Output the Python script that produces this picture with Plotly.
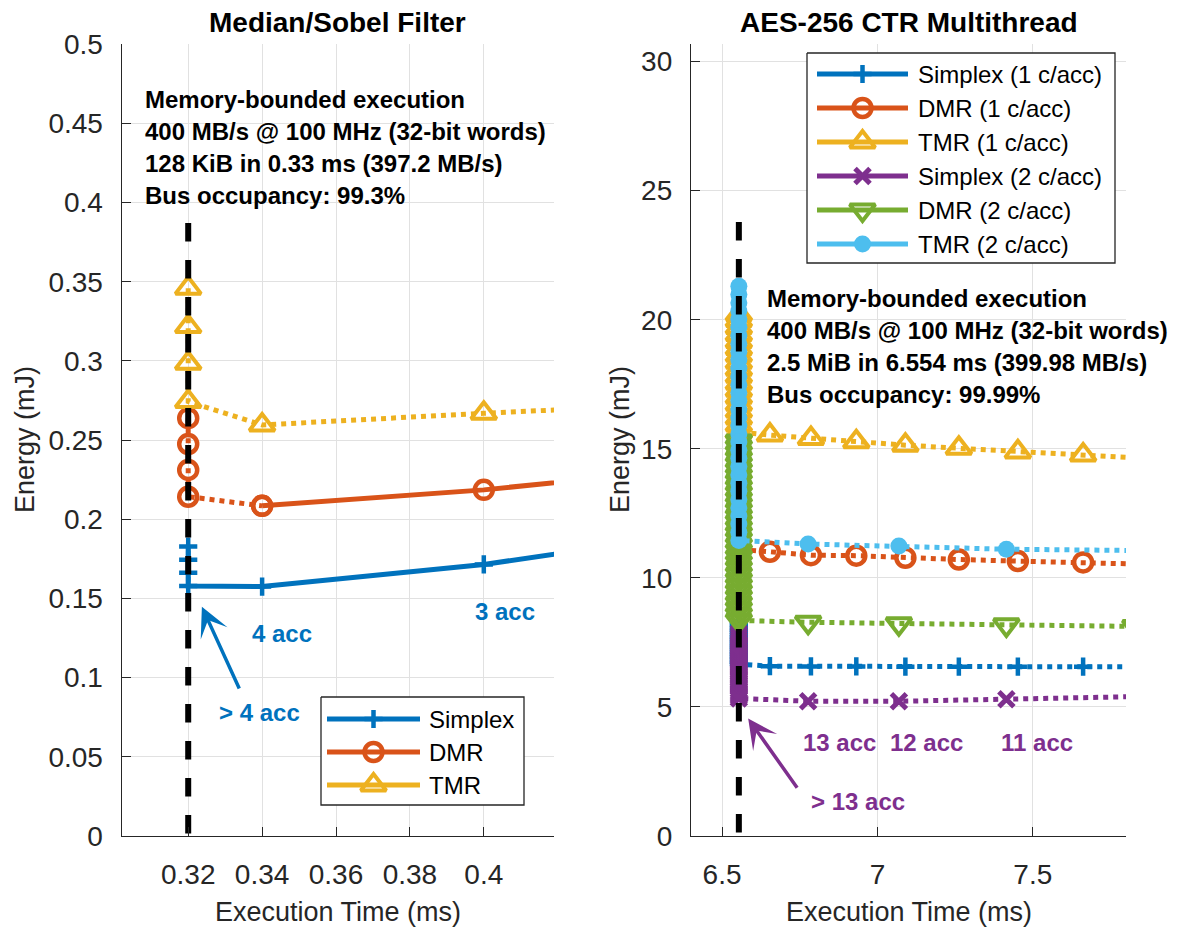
import plotly.graph_objects as go

W, H = 1184, 927
FONT = "Liberation Sans, Arial, Helvetica, sans-serif"

BLUE = "#0072BD"
ORANGE = "#D95319"
YELLOW = "#EDB120"
PURPLE = "#7E2F8E"
GREEN = "#77AC30"
CYAN = "#4DBEEE"
AXIS = "#262626"
GRID = "#e1e1e1"

# ---------------- Median/Sobel Filter ----------------
SOBEL_MEM_TIME = 0.32                      # memory-bounded execution time (ms)
SOBEL_DASH_TOP = 0.3872
SOBEL_TIME = [0.34, 0.40, 0.55]            # compute-bounded points (4, 3, 2 acc)
SOBEL_SIMPLEX_MEM = [0.1579, 0.1663, 0.1744, 0.1828]
SOBEL_DMR_MEM = [0.2143, 0.2312, 0.2476, 0.2639]
SOBEL_TMR_MEM = [0.2744, 0.2986, 0.3217, 0.3460]
SOBEL_SIMPLEX = [0.1575, 0.1715, 0.2225]
SOBEL_DMR = [0.2085, 0.2186, 0.2546]
SOBEL_TMR = [0.2596, 0.2670, 0.2830]

SOBEL_X_RANGE = [0.302, 0.419]
SOBEL_Y_RANGE = [0, 0.5]
SOBEL_X_TICKS = [0.32, 0.34, 0.36, 0.38, 0.40]
SOBEL_X_LABELS = ["0.32", "0.34", "0.36", "0.38", "0.4"]
SOBEL_Y_TICKS = [0, 0.05, 0.1, 0.15, 0.2, 0.25, 0.3, 0.35, 0.4, 0.45, 0.5]
SOBEL_Y_LABELS = ["0", "0.05", "0.1", "0.15", "0.2", "0.25", "0.3", "0.35", "0.4", "0.45", "0.5"]
SOBEL_NOTE = ["Memory-bounded execution",
              "400 MB/s @ 100 MHz (32-bit words)",
              "128 KiB in 0.33 ms (397.2 MB/s)",
              "Bus occupancy: 99.3%"]

# ---------------- AES-256 CTR Multithread ----------------
AES_MEM_TIME = 6.554
AES_DASH_TOP = 23.79
AES_TIME_1C = [6.654, 6.786, 6.932, 7.090, 7.262, 7.452, 7.662, 7.890]
AES_TIME_2C = [6.777, 7.069, 7.415, 7.830]

AES_SIMPLEX_1C = [6.58, 6.57, 6.57, 6.56, 6.56, 6.56, 6.56, 6.55]
AES_DMR_1C = [11.01, 10.88, 10.86, 10.78, 10.71, 10.65, 10.60, 10.52]
AES_TMR_1C = [15.53, 15.40, 15.27, 15.14, 15.02, 14.88, 14.76, 14.61]
AES_SIMPLEX_2C = [5.22, 5.22, 5.30, 5.40]
AES_DMR_2C = [8.28, 8.22, 8.18, 8.12]
AES_TMR_2C = [11.31, 11.23, 11.11, 11.06]

AES_SIMPLEX_1C_MEM = [6.66, 6.75, 6.85, 6.94, 7.04, 7.13, 7.23, 7.32, 7.42,
                      7.51, 7.61, 7.70, 7.80, 7.89, 7.99, 8.08, 8.18, 8.27]
AES_DMR_1C_MEM = [11.10, 11.30, 11.50, 11.70, 11.90, 12.10, 12.30, 12.50, 12.70,
                  12.90, 13.10, 13.30, 13.50, 13.70, 13.90, 14.10, 14.30, 14.50]
AES_TMR_1C_MEM = [15.65, 15.92, 16.19, 16.46, 16.73, 17.00, 17.27, 17.54, 17.81,
                  18.08, 18.35, 18.62, 18.89, 19.16, 19.43, 19.70, 19.97, 20.20]
AES_SIMPLEX_2C_MEM = [5.33, 5.41, 5.49, 5.57, 5.66, 5.74, 5.82, 5.90, 5.98, 6.07, 6.15,
                      6.23, 6.31, 6.39, 6.48, 6.56, 6.64, 6.72, 6.80, 6.89, 6.97, 7.05,
                      7.13, 7.21, 7.30, 7.38, 7.46, 7.54, 7.62, 7.71, 7.79, 7.87]
AES_DMR_2C_MEM = [8.35, 8.57, 8.80, 9.02, 9.25, 9.47, 9.69, 9.92, 10.14, 10.37, 10.59,
                  10.81, 11.04, 11.26, 11.49, 11.71, 11.93, 12.16, 12.38, 12.61, 12.83,
                  13.05, 13.28, 13.50, 13.73, 13.95, 14.17, 14.40, 14.62, 14.85, 15.07, 15.30]
AES_TMR_2C_MEM = [11.45, 11.77, 12.09, 12.40, 12.72, 13.04, 13.36, 13.67, 13.99, 14.31,
                  14.63, 14.94, 15.26, 15.58, 15.90, 16.21, 16.53, 16.85, 17.17, 17.48,
                  17.80, 18.12, 18.44, 18.75, 19.07, 19.39, 19.71, 20.02, 20.34, 20.66,
                  20.98, 21.30]

AES_X_RANGE = [6.4, 7.8]
AES_Y_RANGE = [0, 30.67]
AES_X_TICKS = [6.5, 7.0, 7.5]
AES_X_LABELS = ["6.5", "7", "7.5"]
AES_Y_TICKS = [0, 5, 10, 15, 20, 25, 30]
AES_Y_LABELS = ["0", "5", "10", "15", "20", "25", "30"]
AES_NOTE = ["Memory-bounded execution",
            "400 MB/s @ 100 MHz (32-bit words)",
            "2.5 MiB in 6.554 ms (399.98 MB/s)",
            "Bus occupancy: 99.99%"]

LEGEND_LEFT = ["Simplex", "DMR", "TMR"]
LEGEND_RIGHT = ["Simplex (1 c/acc)", "DMR (1 c/acc)", "TMR (1 c/acc)",
                "Simplex (2 c/acc)", "DMR (2 c/acc)", "TMR (2 c/acc)"]

LW = 5
MARKERS = {
    "plus": dict(symbol="cross-thin", size=13, line=dict(width=4.5)),
    "circle": dict(symbol="circle-open", size=18, line=dict(width=4.5)),
    "tri_up": dict(symbol="triangle-up-open", size=22, line=dict(width=4)),
    "x": dict(symbol="x-thin", size=15, line=dict(width=5)),
    "tri_down": dict(symbol="triangle-down-open", size=22, line=dict(width=4)),
    "dot": dict(symbol="circle", size=17, line=dict(width=0)),
}


def marker(kind, color):
    m = dict(MARKERS[kind])
    m["line"] = dict(m["line"], color=color)
    m["color"] = color
    return m


fig = go.Figure()


def curve(xs, ys, color, kind, dash, xa, ya):
    fig.add_trace(go.Scatter(
        x=xs, y=ys, xaxis=xa, yaxis=ya, mode="lines+markers",
        line=dict(color=color, width=LW, dash=dash),
        marker=marker(kind, color), cliponaxis=True, showlegend=False,
        hoverinfo="skip"))


def stack_then_points(x_mem, mem, times, vals):
    xs = [x_mem] * len(mem) + list(times)
    ys = list(reversed(mem)) + list(vals)
    return xs, ys


def bound_line(x, top, xa, ya):
    # vertical dashed marker of the memory-bounded execution time, drawn top-down
    fig.add_trace(go.Scatter(x=[x, x], y=[top, 0], xaxis=xa, yaxis=ya, mode="lines",
                             line=dict(color="black", width=6, dash="18.5px,18.5px"),
                             showlegend=False, hoverinfo="skip"))


# ---- left panel curves ----
xs, ys = stack_then_points(SOBEL_MEM_TIME, SOBEL_SIMPLEX_MEM, SOBEL_TIME, SOBEL_SIMPLEX)
curve(xs, ys, BLUE, "plus", "solid", "x", "y")

xs, ys = stack_then_points(SOBEL_MEM_TIME, SOBEL_DMR_MEM, SOBEL_TIME[:1], SOBEL_DMR[:1])
curve(xs, ys, ORANGE, "circle", "dot", "x", "y")
curve(SOBEL_TIME, SOBEL_DMR, ORANGE, "circle", "solid", "x", "y")

xs, ys = stack_then_points(SOBEL_MEM_TIME, SOBEL_TMR_MEM, SOBEL_TIME, SOBEL_TMR)
curve(xs, ys, YELLOW, "tri_up", "dot", "x", "y")

bound_line(SOBEL_MEM_TIME, SOBEL_DASH_TOP, "x", "y")

# ---- right panel curves ----
aes_series = [
    (AES_SIMPLEX_1C_MEM, AES_TIME_1C, AES_SIMPLEX_1C, BLUE, "plus"),
    (AES_DMR_1C_MEM, AES_TIME_1C, AES_DMR_1C, ORANGE, "circle"),
    (AES_TMR_1C_MEM, AES_TIME_1C, AES_TMR_1C, YELLOW, "tri_up"),
    (AES_SIMPLEX_2C_MEM, AES_TIME_2C, AES_SIMPLEX_2C, PURPLE, "x"),
    (AES_DMR_2C_MEM, AES_TIME_2C, AES_DMR_2C, GREEN, "tri_down"),
    (AES_TMR_2C_MEM, AES_TIME_2C, AES_TMR_2C, CYAN, "dot"),
]
for mem, times, vals, color, kind in aes_series:
    xs, ys = stack_then_points(AES_MEM_TIME, mem, times, vals)
    curve(xs, ys, color, kind, "dot", "x2", "y2")

bound_line(AES_MEM_TIME, AES_DASH_TOP, "x2", "y2")

annotations = []

# ---- legends, drawn in a pixel-space overlay ----
def legend_box(x0, y0, x1, y1):
    fig.add_trace(go.Scatter(x=[x0, x1, x1, x0, x0], y=[y0, y0, y1, y1, y0],
                             xaxis="x3", yaxis="y3", mode="lines", fill="toself",
                             fillcolor="white", line=dict(color=AXIS, width=1.3),
                             showlegend=False, hoverinfo="skip"))


def legend_item(xl, xr, yc, xt, name, color, kind):
    fig.add_trace(go.Scatter(x=[xl, xr], y=[yc, yc], xaxis="x3", yaxis="y3",
                             mode="lines", line=dict(color=color, width=LW),
                             showlegend=False, hoverinfo="skip"))
    fig.add_trace(go.Scatter(x=[(xl + xr) / 2], y=[yc], xaxis="x3", yaxis="y3",
                             mode="markers", marker=marker(kind, color),
                             showlegend=False, hoverinfo="skip"))
    annotations.append(dict(x=xt, y=yc, xref="x3", yref="y3", text=name,
                            showarrow=False, xanchor="left", yanchor="middle",
                            font=dict(size=24, color="black", family=FONT)))


legend_box(321, 697, 524, 805)
for i, (name, color, kind) in enumerate(zip(LEGEND_LEFT, [BLUE, ORANGE, YELLOW],
                                            ["plus", "circle", "tri_up"])):
    legend_item(327, 420, 719 + 33 * i, 427, name, color, kind)

legend_box(807, 53, 1115, 263)
for i, (name, (_, _, _, color, kind)) in enumerate(zip(LEGEND_RIGHT, aes_series)):
    legend_item(817, 908, 74 + 34 * i, 916, name, color, kind)

# ---- text notes ----
for i, line in enumerate(SOBEL_NOTE):
    annotations.append(dict(x=0.3078, y=0.465 - 0.0202 * i, xref="x", yref="y",
                            text="<b>%s</b>" % line, showarrow=False,
                            xanchor="left", yanchor="middle",
                            font=dict(size=24, color="black", family=FONT)))
for i, line in enumerate(AES_NOTE):
    annotations.append(dict(x=6.638, y=20.84 - 1.24 * i, xref="x2", yref="y2",
                            text="<b>%s</b>" % line, showarrow=False,
                            xanchor="left", yanchor="middle",
                            font=dict(size=24, color="black", family=FONT)))

def label(x, y, xref, yref, text, color):
    annotations.append(dict(x=x, y=y, xref=xref, yref=yref, text="<b>%s</b>" % text,
                            showarrow=False, xanchor="center", yanchor="middle",
                            font=dict(size=24, color=color, family=FONT)))


label(0.3454, 0.1282, "x", "y", "4 acc", BLUE)
label(0.4057, 0.1415, "x", "y", "3 acc", BLUE)
label(0.3394, 0.0777, "x", "y", "&gt; 4 acc", BLUE)
label(6.879, 3.64, "x2", "y2", "13 acc", PURPLE)
label(7.158, 3.64, "x2", "y2", "12 acc", PURPLE)
label(7.513, 3.64, "x2", "y2", "11 acc", PURPLE)
label(6.939, 1.32, "x2", "y2", "&gt; 13 acc", PURPLE)

def arrow(x, y, ax, ay, xref, yref, color):
    annotations.append(dict(x=x, y=y, ax=ax, ay=ay, xref=xref, yref=yref,
                            axref=xref, ayref=yref, text="", showarrow=True,
                            arrowhead=3, arrowsize=1.4, arrowwidth=3.5,
                            arrowcolor=color, standoff=0))


arrow(0.3237, 0.1448, 0.3340, 0.0922, "x", "y", BLUE)
arrow(6.584, 4.55, 6.745, 1.81, "x2", "y2", PURPLE)

# ---- titles and axis labels ----
for xc, title in [(337.9, "Median/Sobel Filter"), (908.5, "AES-256 CTR Multithread")]:
    annotations.append(dict(x=xc, y=22, xref="x3", yref="y3", text="<b>%s</b>" % title,
                            showarrow=False, xanchor="center", yanchor="middle",
                            font=dict(size=28, color="black", family=FONT)))
    annotations.append(dict(x=xc, y=912, xref="x3", yref="y3", text="Execution Time (ms)",
                            showarrow=False, xanchor="center", yanchor="middle",
                            font=dict(size=27, color=AXIS, family=FONT)))
for xc in [25, 620]:
    annotations.append(dict(x=xc, y=440, xref="x3", yref="y3", text="Energy (mJ)",
                            textangle=-90, showarrow=False, xanchor="center",
                            yanchor="middle", font=dict(size=27, color=AXIS, family=FONT)))


def axis(domain, rng, ticks, labels, anchor, is_x):
    return dict(domain=domain, range=rng, anchor=anchor, tickmode="array",
                tickvals=ticks, ticktext=labels, ticks="inside", ticklen=9,
                tickwidth=1.3, tickcolor=AXIS, showline=True, linecolor=AXIS,
                linewidth=1.3, mirror=False, showgrid=True, gridcolor=GRID,
                gridwidth=1.3, zeroline=False, fixedrange=True, automargin=False,
                ticklabelstandoff=13 if is_x else 12,
                tickfont=dict(size=28, color=AXIS, family=FONT))


ydom = [1 - 836 / H, 1 - 44.3 / H]
fig.update_layout(
    width=W, height=H, margin=dict(l=0, r=0, t=0, b=0, autoexpand=False),
    paper_bgcolor="white", plot_bgcolor="rgba(0,0,0,0)", showlegend=False,
    font=dict(family=FONT, color=AXIS),
    xaxis=axis([121.7 / W, 554 / W], SOBEL_X_RANGE, SOBEL_X_TICKS, SOBEL_X_LABELS, "y", True),
    yaxis=axis(ydom, SOBEL_Y_RANGE, SOBEL_Y_TICKS, SOBEL_Y_LABELS, "x", False),
    xaxis2=axis([691 / W, 1126 / W], AES_X_RANGE, AES_X_TICKS, AES_X_LABELS, "y2", True),
    yaxis2=axis(ydom, AES_Y_RANGE, AES_Y_TICKS, AES_Y_LABELS, "x2", False),
    xaxis3=dict(domain=[0, 1], range=[0, W], visible=False, anchor="y3", fixedrange=True),
    yaxis3=dict(domain=[0, 1], range=[H, 0], visible=False, anchor="x3", fixedrange=True),
    annotations=annotations,
)

fig.write_html("out.html")
